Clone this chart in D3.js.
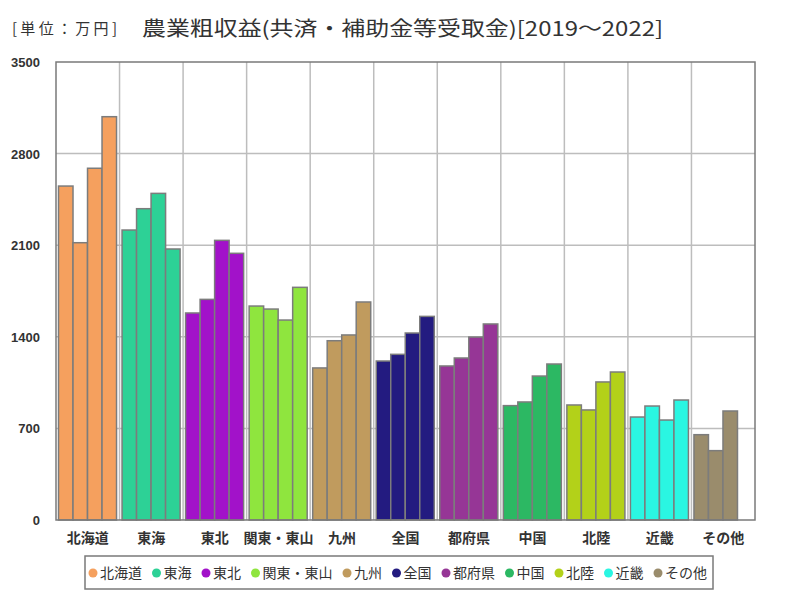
<!DOCTYPE html>
<html><head><meta charset="utf-8">
<script src="https://cdn.jsdelivr.net/npm/d3@7"></script>
<style>body{margin:0;background:#fff}</style>
</head><body>
<svg id="c" width="800" height="600"></svg>
<script>
const categories = ["北海道","東海","東北","関東・東山","九州","全国","都府県","中国","北陸","近畿","その他"];
const years = ["2019","2020","2021","2022"];
const values = [
  [2552,2119,2688,3082],
  [2216,2379,2496,2071],
  [1582,1686,2137,2038],
  [1635,1612,1528,1778],
  [1162,1370,1414,1666],
  [1215,1266,1429,1556],
  [1177,1238,1398,1498],
  [874,902,1100,1192],
  [879,841,1055,1131],
  [787,871,764,917],
  [652,530,833,null]
];
const colors = ["#f5a05e","#2dd196","#a212c9","#8fe53e","#c09b5e","#231b80","#963696","#2cb863","#b3d119","#2af6e2","#9a8c6c"];
const yTicks = [0,700,1400,2100,2800,3500];

const svg = d3.select("#c");
const L=56,R=755,T=62,B=520;
const x0 = d3.scaleBand().domain(categories).range([L,R]).padding(0);
const x1 = d3.scaleBand().domain(years).range([2.5, x0.bandwidth()-3]).padding(0);
const y = d3.scaleLinear().domain([0,3500]).range([B,T]);

// gridlines
svg.append("g").selectAll("line.h").data(yTicks.slice(1,-1)).join("line")
  .attr("x1",L).attr("x2",R).attr("y1",d=>y(d)).attr("y2",d=>y(d))
  .attr("stroke","#bdbdbd").attr("stroke-width",1.5);
svg.append("g").selectAll("line.v").data(categories.slice(1)).join("line")
  .attr("x1",d=>x0(d)).attr("x2",d=>x0(d)).attr("y1",T).attr("y2",B)
  .attr("stroke","#bdbdbd").attr("stroke-width",1.5);

// bars
const g = svg.append("g").selectAll("g").data(categories).join("g")
  .attr("transform",d=>`translate(${x0(d)},0)`);
g.selectAll("rect").data((d,i)=>values[i].map((v,j)=>({v,j,i})).filter(e=>e.v!=null)).join("rect")
  .attr("x",e=>x1(years[e.j])).attr("width",x1.bandwidth())
  .attr("y",e=>y(e.v)).attr("height",e=>B-y(e.v))
  .attr("fill",e=>colors[e.i]).attr("stroke","#7c7c7c").attr("stroke-width",1.5);

// frame
svg.append("rect").attr("x",L).attr("y",T).attr("width",R-L).attr("height",B-T)
  .attr("fill","none").attr("stroke","#7a7a7a").attr("stroke-width",1.5);

// y axis labels
const yAxis = d3.axisLeft(y).tickValues(yTicks).tickSize(0).tickPadding(0).tickFormat(d3.format("d"));
const ya = svg.append("g").attr("transform",`translate(40,0)`).call(yAxis);
ya.select(".domain").remove();
ya.selectAll("text").attr("font-family","'Liberation Sans Narrow','Liberation Sans',Arial,sans-serif")
  .attr("font-weight","bold").attr("font-size",13).attr("fill","#333").attr("dy","0.35em");

// x labels
const xAxis = d3.axisBottom(x0).tickSize(0).tickPadding(0);
const xa = svg.append("g").attr("transform",`translate(0,538)`).call(xAxis);
xa.select(".domain").remove();
xa.selectAll("text").attr("font-family","'Noto Sans CJK JP',sans-serif").attr("font-weight","bold")
  .attr("font-size",14).attr("fill","#333").attr("dy","0.35em");

// titles
svg.append("text").attr("x",12).attr("y",34).text("[単位：万円]")
  .attr("font-family","'Noto Sans CJK JP',sans-serif").attr("font-size",15).attr("fill","#333")
  .attr("textLength",105).attr("lengthAdjust","spacing");
svg.append("text").attr("x",142).attr("y",36).text("農業粗収益(共済・補助金等受取金)[2019～2022]")
  .attr("font-family","'Noto Sans CJK JP',sans-serif").attr("font-size",20).attr("fill","#333")
  .attr("textLength",521).attr("lengthAdjust","spacingAndGlyphs");

// legend
const lg = svg.append("g");
lg.append("rect").attr("x",85).attr("y",556).attr("width",628).attr("height",33)
  .attr("fill","#fff").attr("stroke","#7a7a7a").attr("stroke-width",1.5);
let cx = 93;
categories.forEach((c,i)=>{
  lg.append("circle").attr("cx",cx).attr("cy",573).attr("r",4.5).attr("fill",colors[i]);
  const t = lg.append("text").attr("x",cx+7).attr("y",573).attr("dy","0.36em").text(c)
    .attr("font-family","'Noto Sans CJK JP',sans-serif").attr("font-size",14).attr("fill","#333");
  const w = t.node().getComputedTextLength();
  cx += 7 + w + 14.5;
});
</script>
</body></html>
